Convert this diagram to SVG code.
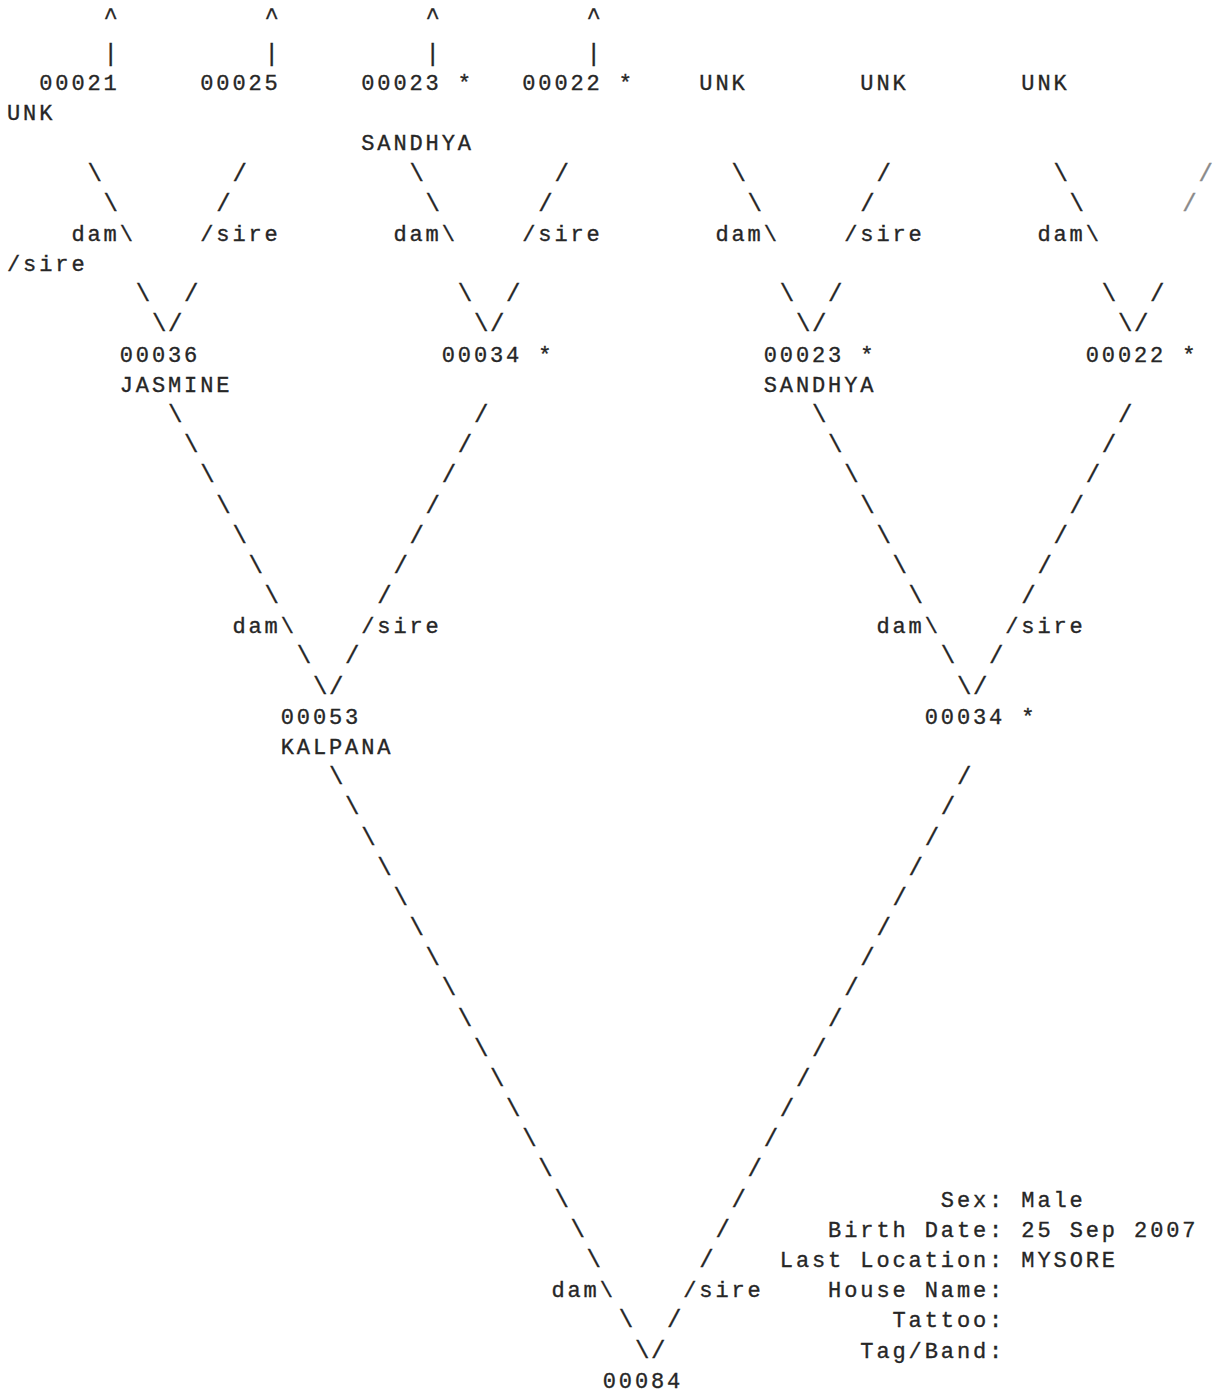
<svg xmlns="http://www.w3.org/2000/svg" width="1219" height="1393" viewBox="0 0 1219 1393" xml:space="preserve">
<style>
text { font-family: "Liberation Mono", "Courier New", monospace; font-size: 22px; letter-spacing: 2.9px; fill: #262626; stroke: #262626; stroke-width: 0.35px; }
#connectors text { font-size: 24px; letter-spacing: 1.7px; }
#connectors text.lbl { font-size: 22px; letter-spacing: 2.9px; }
.faint { fill: #8a8a8a; stroke: #8a8a8a; }
</style>
<rect x="0" y="0" width="1219" height="1393" fill="#ffffff"/>
<g id="connectors">
<text x="103.6" y="24">^</text><text x="264.6" y="24">^</text><text x="425.6" y="24">^</text><text x="586.6" y="24">^</text>
<text x="103.6" y="61">|</text><text x="264.6" y="61">|</text><text x="425.6" y="61">|</text><text x="586.6" y="61">|</text>
<!-- V1 -->
<text x="87.5" y="180.5">\</text><text x="232.4" y="180.5">/</text>
<text x="103.6" y="210.7">\</text><text x="216.3" y="210.7">/</text>
<text class="lbl" x="71.4" y="240.9">dam\</text><text class="lbl" x="200.2" y="240.9">/sire</text>
<text x="135.8" y="301.2">\</text><text x="184.1" y="301.2">/</text>
<text x="151.9" y="331.4">\/</text>
<!-- V2 -->
<text x="409.5" y="180.5">\</text><text x="554.4" y="180.5">/</text>
<text x="425.6" y="210.7">\</text><text x="538.3" y="210.7">/</text>
<text class="lbl" x="393.4" y="240.9">dam\</text><text class="lbl" x="522.2" y="240.9">/sire</text>
<text x="457.8" y="301.2">\</text><text x="506.1" y="301.2">/</text>
<text x="473.9" y="331.4">\/</text>
<!-- V3 -->
<text x="731.5" y="180.5">\</text><text x="876.4" y="180.5">/</text>
<text x="747.6" y="210.7">\</text><text x="860.3" y="210.7">/</text>
<text class="lbl" x="715.4" y="240.9">dam\</text><text class="lbl" x="844.2" y="240.9">/sire</text>
<text x="779.8" y="301.2">\</text><text x="828.1" y="301.2">/</text>
<text x="795.9" y="331.4">\/</text>
<!-- V4 -->
<text x="1053.5" y="180.5">\</text><text class="faint" x="1198.4" y="180.5">/</text>
<text x="1069.6" y="210.7">\</text><text class="faint" x="1182.3" y="210.7">/</text>
<text class="lbl" x="1037.4" y="240.9">dam\</text><text class="lbl" x="7" y="271.0">/sire</text>
<text x="1101.8" y="301.2">\</text><text x="1150.1" y="301.2">/</text>
<text x="1117.9" y="331.4">\/</text>
<!-- V5 -->
<text x="168" y="421.9">\</text><text x="473.9" y="421.9">/</text>
<text x="184.1" y="452.1">\</text><text x="457.8" y="452.1">/</text>
<text x="200.2" y="482.3">\</text><text x="441.7" y="482.3">/</text>
<text x="216.3" y="512.5">\</text><text x="425.6" y="512.5">/</text>
<text x="232.4" y="542.7">\</text><text x="409.5" y="542.7">/</text>
<text x="248.5" y="572.8">\</text><text x="393.4" y="572.8">/</text>
<text x="264.6" y="603.0">\</text><text x="377.3" y="603.0">/</text>
<text class="lbl" x="232.4" y="633.2">dam\</text><text class="lbl" x="361.2" y="633.2">/sire</text>
<text x="296.8" y="663.4">\</text><text x="345.1" y="663.4">/</text>
<text x="312.9" y="693.6">\/</text>
<!-- V6 -->
<text x="812" y="421.9">\</text><text x="1117.9" y="421.9">/</text>
<text x="828.1" y="452.1">\</text><text x="1101.8" y="452.1">/</text>
<text x="844.2" y="482.3">\</text><text x="1085.7" y="482.3">/</text>
<text x="860.3" y="512.5">\</text><text x="1069.6" y="512.5">/</text>
<text x="876.4" y="542.7">\</text><text x="1053.5" y="542.7">/</text>
<text x="892.5" y="572.8">\</text><text x="1037.4" y="572.8">/</text>
<text x="908.6" y="603.0">\</text><text x="1021.3" y="603.0">/</text>
<text class="lbl" x="876.4" y="633.2">dam\</text><text class="lbl" x="1005.2" y="633.2">/sire</text>
<text x="940.8" y="663.4">\</text><text x="989.1" y="663.4">/</text>
<text x="956.9" y="693.6">\/</text>
<!-- V7 -->
<text x="329" y="784.1">\</text><text x="956.9" y="784.1">/</text>
<text x="345.1" y="814.3">\</text><text x="940.8" y="814.3">/</text>
<text x="361.2" y="844.5">\</text><text x="924.7" y="844.5">/</text>
<text x="377.3" y="874.6">\</text><text x="908.6" y="874.6">/</text>
<text x="393.4" y="904.8">\</text><text x="892.5" y="904.8">/</text>
<text x="409.5" y="935.0">\</text><text x="876.4" y="935.0">/</text>
<text x="425.6" y="965.2">\</text><text x="860.3" y="965.2">/</text>
<text x="441.7" y="995.4">\</text><text x="844.2" y="995.4">/</text>
<text x="457.8" y="1025.5">\</text><text x="828.1" y="1025.5">/</text>
<text x="473.9" y="1055.7">\</text><text x="812" y="1055.7">/</text>
<text x="490" y="1085.9">\</text><text x="795.9" y="1085.9">/</text>
<text x="506.1" y="1116.1">\</text><text x="779.8" y="1116.1">/</text>
<text x="522.2" y="1146.3">\</text><text x="763.7" y="1146.3">/</text>
<text x="538.3" y="1176.4">\</text><text x="747.6" y="1176.4">/</text>
<text x="554.4" y="1206.6">\</text><text x="731.5" y="1206.6">/</text>
<text x="570.5" y="1236.8">\</text><text x="715.4" y="1236.8">/</text>
<text x="586.6" y="1267.0">\</text><text x="699.3" y="1267.0">/</text>
<text class="lbl" x="551.4" y="1297.2">dam\</text><text class="lbl" x="683.2" y="1297.2">/sire</text>
<text x="618.8" y="1327.3">\</text><text x="667.1" y="1327.3">/</text>
<text x="634.9" y="1357.5">\/</text>
</g>
<g id="node-00021"><text x="39.2" y="90.0">00021</text></g>
<g id="node-00025"><text x="200.2" y="90.0">00025</text></g>
<g id="node-00023-top"><text x="361.2" y="90.0">00023 *</text><text x="361.2" y="150.3">SANDHYA</text></g>
<g id="node-00022-top"><text x="522.2" y="90.0">00022 *</text></g>
<g id="node-unk-1"><text x="699.3" y="90.0">UNK</text></g>
<g id="node-unk-2"><text x="860.3" y="90.0">UNK</text></g>
<g id="node-unk-3"><text x="1021.3" y="90.0">UNK</text></g>
<g id="node-unk-4"><text x="7" y="120.1">UNK</text></g>
<g id="node-00036"><text x="119.7" y="361.6">00036</text><text x="119.7" y="391.8">JASMINE</text></g>
<g id="node-00034-left"><text x="441.7" y="361.6">00034 *</text></g>
<g id="node-00023"><text x="763.7" y="361.6">00023 *</text><text x="763.7" y="391.8">SANDHYA</text></g>
<g id="node-00022"><text x="1085.7" y="361.6">00022 *</text></g>
<g id="node-00053"><text x="280.7" y="723.7">00053</text><text x="280.7" y="753.9">KALPANA</text></g>
<g id="node-00034"><text x="924.7" y="723.7">00034 *</text></g>
<g id="node-00084"><text x="602.7" y="1387.7">00084</text></g>
<g id="info">
<text x="940.8" y="1206.6">Sex: Male</text>
<text x="828.1" y="1236.8">Birth Date: 25 Sep 2007</text>
<text x="779.8" y="1267.0">Last Location: MYSORE</text>
<text x="828.1" y="1297.2">House Name:</text>
<text x="892.5" y="1327.3">Tattoo:</text>
<text x="860.3" y="1357.5">Tag/Band:</text>
</g>
</svg>
